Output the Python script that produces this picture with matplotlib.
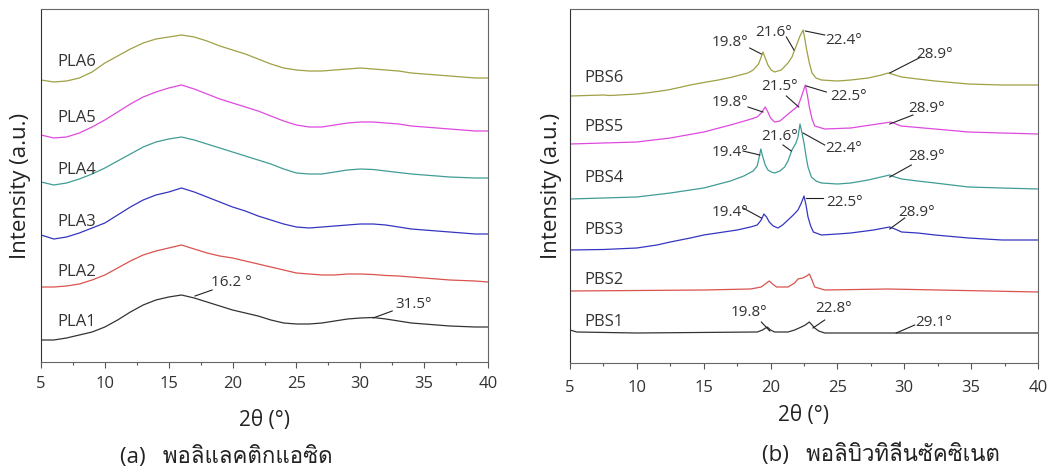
import matplotlib
matplotlib.use("Agg")
import matplotlib.pyplot as plt
from matplotlib import font_manager
from matplotlib.ft2font import FT2Font
from matplotlib.ticker import MultipleLocator

# ---- data (intensity in arbitrary units, curves already offset) ----
pla_x = [5, 6, 7, 8, 9, 10, 11, 12, 13, 14, 15, 16, 17, 18, 19, 20, 21, 22,
         23, 24, 25, 26, 27, 28, 29, 30, 31, 32, 33, 34, 35, 36, 37, 38, 39, 40]
pla1 = [22, 22, 24, 27, 30, 35, 42, 50, 57, 62, 65, 67, 64, 60, 56, 52, 49, 46,
        42, 39, 38, 38, 39, 41, 43, 44, 44.5, 43, 41, 39, 38, 37, 36, 35.5, 35, 35]
pla2 = [75, 75, 76, 78, 82, 87, 94, 101, 107, 111, 114, 117, 113, 109, 106, 104, 101, 98,
        95, 92, 89, 88, 87, 87, 88, 88, 87.5, 86.5, 86, 85, 84, 83, 82, 81.5, 81, 80]
pla3 = [127, 123, 125, 129, 134, 139, 147, 155, 162, 167, 170, 174, 170, 165, 160, 155, 151, 146,
        142, 138, 135, 134, 135, 136, 137, 138, 138, 137, 135, 133, 132, 131, 130, 129, 128, 128]
pla4 = [180, 177, 179, 183, 188, 194, 201, 208, 215, 220, 223, 225, 222, 218, 214, 210, 206, 202,
        198, 193, 189, 188, 188, 190, 192, 193, 192.5, 191, 189.5, 188, 187, 186, 185, 184.5, 184, 184]
pla5 = [227, 224, 225, 229, 235, 242, 250, 258, 265, 270, 274, 277, 273, 268, 263, 259, 255, 251,
        246, 241, 237, 235, 235, 237, 239, 240, 240, 239, 238, 236, 235, 234, 233, 232, 231, 231]
pla6 = [282, 280, 281, 284, 290, 299, 306, 313, 319, 323, 325, 327, 325, 321, 316, 312, 308, 303,
        298, 294, 292, 291, 291, 292, 293, 294, 293, 292, 291, 289, 288, 287, 286, 285, 284, 284]
pla_names = ["PLA1", "PLA2", "PLA3", "PLA4", "PLA5", "PLA6"]

pbs1_x = [5, 5.5, 10, 19, 19.4, 19.75, 20.0, 20.3, 21.3, 21.8, 22.3, 22.6, 22.9, 23.1,
          23.3, 23.6, 24.05, 29.8, 40]
pbs1 = [33, 31, 30, 31, 33, 36, 33, 31, 31, 33, 36, 38, 41, 38,
        35, 32, 30, 30, 30]
pbs2_x = [5, 15, 18.5, 19.3, 19.6, 19.9, 20.15, 20.45, 21.3, 21.8, 22.05, 22.4, 22.7, 22.9,
          23.1, 23.3, 24.05, 28.8, 40]
pbs2 = [72, 73, 74, 76, 79, 82, 79, 76, 76, 80, 84, 85, 87, 89,
        83, 76, 73, 74, 71]
pbs3_x = [5, 7.5, 10, 11.5, 12.5, 14, 15, 16.5, 17.5, 18.5, 19, 19.3, 19.5, 19.7, 19.9,
          20.2, 20.55, 20.9, 21.3, 21.7, 22.05, 22.3, 22.5, 22.65, 22.8, 23.0, 23.2, 23.8,
          25, 26, 27.7, 28.9, 29.3, 29.8, 31, 32.3, 34.8, 37.3, 40]
pbs3 = [113, 113.5, 115, 118, 121, 125, 128, 131, 133, 136, 138, 143, 149, 146, 141,
        137, 135, 138, 143, 148, 153, 160, 167, 158, 146, 137, 131, 128,
        129, 130, 133, 136, 134, 131, 130, 128, 125, 123, 123]
pbs4_x = [5, 7.5, 10, 12.5, 15, 17, 18, 18.7, 19.0, 19.15, 19.27, 19.4, 19.6, 19.8, 20.06,
          20.3, 20.7, 21.05, 21.3, 21.6, 21.9, 22.05, 22.2, 22.35, 22.5, 22.65, 22.8, 23.05,
          23.4, 23.8, 25, 26, 27.3, 28.9, 29.3, 29.8, 31, 32.3, 34.8, 37.3, 40]
pbs4 = [164, 165, 166, 170, 175, 182, 187, 192, 197, 206, 214, 207, 198, 193, 191,
        190, 192, 196, 202, 213, 220, 226, 239, 230, 220, 207, 196, 186,
        182, 180, 179, 180, 183, 188, 186, 184, 182, 180, 176, 175, 174]
pbs5_x = [5, 7.5, 10, 12.5, 15, 17, 18.3, 19, 19.3, 19.6, 19.8, 20.0, 20.3, 20.7, 21.05,
          21.5, 22.05, 22.3, 22.6, 22.75, 22.9, 23.1, 23.3, 24.05, 26, 28.5, 29.0, 29.75,
          32.3, 34.8, 37.3, 40]
pbs5 = [219, 220, 221, 225, 231, 238, 243, 246, 250, 256, 251, 245, 241, 242, 246,
        251, 257, 266, 278, 268, 256, 244, 237, 234, 235, 240, 241, 237,
        234, 231, 230, 229]
pbs6_x = [5, 7.5, 8, 10, 11, 12.3, 13, 14, 15, 16.1, 17, 18.3, 18.7, 19.1, 19.3, 19.43,
          19.6, 19.8, 20.05, 20.3, 20.8, 21.3, 21.6, 21.8, 22.0, 22.2, 22.43, 22.55, 22.7,
          22.9, 23.1, 23.4, 23.8, 25, 26, 27.3, 28.3, 28.8, 29.3, 29.8, 31, 32.3, 34.8,
          37.3, 40]
pbs6 = [267, 268, 267.5, 269, 270.5, 273, 275, 278, 280.5, 283, 285.5, 290, 293, 299, 306, 311,
        305, 298, 293, 291, 293, 300, 306, 313, 320, 327, 333, 325, 313,
        300, 290, 285, 283, 282, 283, 285, 288, 290, 288, 286, 284, 282, 279,
        278, 278]
pbs_names = ["PBS1", "PBS2", "PBS3", "PBS4", "PBS5", "PBS6"]

colors = ["#333333", "#d9534f", "#3535c0", "#3f9d95", "#de4ade", "#a0a044"]

# peak labels: text, text position, leader start, leader end
pla_peaks = [("16.2 °", (19.9, 80), (17.06, 66), (18.4, 72)),
             ("31.5°", (34.2, 57), (31.0, 44), (32.5, 51))]
pbs_peaks = [("19.8°", (17.0, 321), (18.44, 315), (19.31, 309)),
             ("21.6°", (20.2, 331), (21.18, 326), (21.75, 313)),
             ("22.4°", (25.5, 323), (22.6, 332), (24.05, 328)),
             ("28.9°", (32.3, 308), (28.91, 290), (31.25, 306)),
             ("19.8°", (17.0, 261), (18.31, 256), (19.43, 251)),
             ("21.5°", (20.7, 276), (21.18, 267), (22.11, 256)),
             ("22.5°", (25.8, 266), (22.67, 277), (24.17, 271)),
             ("28.9°", (31.7, 255), (28.91, 239), (30.65, 248)),
             ("19.4°", (17.0, 211), (17.94, 212), (19.19, 208)),
             ("21.6°", (20.7, 226), (20.93, 218), (21.55, 212)),
             ("22.4°", (25.5, 215), (22.43, 230), (24.05, 218)),
             ("28.9°", (31.7, 206), (28.91, 186), (30.53, 198)),
             ("22.5°", (25.5, 161), (22.67, 165), (23.92, 165)),
             ("19.4°", (17.0, 150), (17.94, 155), (19.31, 145)),
             ("28.9°", (30.9, 151), (28.91, 134), (30.03, 145)),
             ("19.8°", (18.4, 50), (19.31, 41), (19.94, 32)),
             ("22.8°", (24.7, 55), (24.05, 43), (23.17, 35)),
             ("29.1°", (32.2, 41), (29.4, 30), (30.78, 38))]
pla_label_y = [40, 90, 140, 192, 244, 300]
pbs_label_y = [41, 83, 133, 185, 236, 285]


def thai_family():
    for f in font_manager.fontManager.ttflist:
        try:
            if FT2Font(f.fname).get_char_index(0x0E1E):
                return [f.name]
        except Exception:
            pass
    return []


plt.rcParams['font.family'] = ['Open Sans'] + thai_family() + ['DejaVu Sans']
txt = "#333333"

fig = plt.figure(figsize=(10.55, 4.69), dpi=100)
ax1 = fig.add_axes([41 / 1055, 107 / 469, 447 / 1055, 353 / 469])
ax2 = fig.add_axes([570 / 1055, 106 / 469, 468 / 1055, 354 / 469])

for i, y in enumerate([pla1, pla2, pla3, pla4, pla5, pla6]):
    ax1.plot(pla_x, y, color=colors[i], lw=0.9)
    ax1.text(6.3, pla_label_y[i], pla_names[i], fontsize=12, color=txt, va="center")

pbs_x = [pbs1_x, pbs2_x, pbs3_x, pbs4_x, pbs5_x, pbs6_x]
for i, y in enumerate([pbs1, pbs2, pbs3, pbs4, pbs5, pbs6]):
    ax2.plot(pbs_x[i], y, color=colors[i], lw=0.9)
    ax2.text(6.1, pbs_label_y[i], pbs_names[i], fontsize=12, color=txt, va="center")

for ax, peaks in [(ax1, pla_peaks), (ax2, pbs_peaks)]:
    for s, (tx, ty), (x0, y0), (x1, y1) in peaks:
        ax.plot([x0, x1], [y0, y1], color="#222222", lw=0.8)
        ax.text(tx, ty, s, fontsize=11, color=txt, ha="center", va="center")

for ax, ylim, pad, xl in [(ax1, 353, 6, -58 / 353), (ax2, 354, 8, -52 / 354)]:
    ax.set_xlim(5, 40)
    ax.set_ylim(0, ylim)
    ax.set_yticks([])
    ax.xaxis.set_major_locator(MultipleLocator(5))
    ax.xaxis.set_minor_locator(MultipleLocator(2.5))
    ax.tick_params(axis="x", which="major", direction="out", length=4, width=0.8,
                   color="#555555", labelsize=12, labelcolor=txt, pad=pad)
    ax.tick_params(axis="x", which="minor", direction="out", length=2.5, width=0.8,
                   color="#555555")
    for sp in ax.spines.values():
        sp.set_color("#666666")
        sp.set_linewidth(0.8)
    ax.spines["left"].set_color("#333333")
    ax.set_xlabel("2θ (°)", fontsize=15, color="#222222", va="center")
    ax.xaxis.set_label_coords(0.5, xl)
    ax.set_ylabel("Intensity (a.u.)", fontsize=16, color="#222222", va="center")

ax1.yaxis.set_label_coords(-20 / 447, 0.5)
ax2.yaxis.set_label_coords(-19 / 468, 0.5)

fig.text(120 / 1055, 1 - 457 / 469, "(a)   พอลิแลคติกแอซิด", fontsize=16,
         color="#222222", va="center")
fig.text(762 / 1055, 1 - 455 / 469, "(b)   พอลิบิวทิลีนซัคซิเนต", fontsize=16,
         color="#222222", va="center")

fig.savefig("out.png", dpi=100)
